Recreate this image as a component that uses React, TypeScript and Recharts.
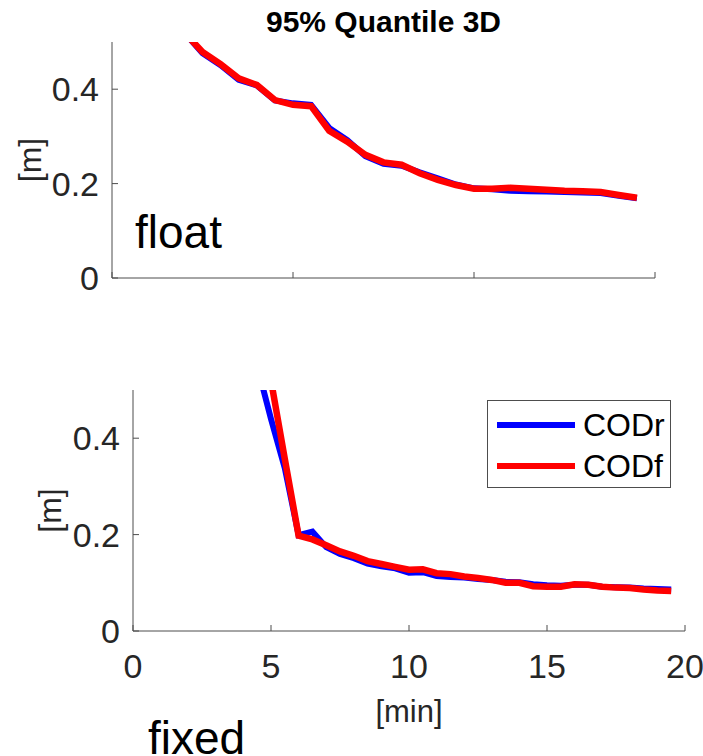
import React from "react";
import { LineChart, Line, XAxis, YAxis, Legend, Label } from "recharts";

// 95% quantile of the 3D position error over convergence time [min]
const floatTime = [2.0, 2.5, 3.0, 3.5, 4.0, 4.5, 5.0, 5.5, 6.0, 6.5, 7.0, 7.5, 8.0, 8.5, 9.0, 9.5, 10.0, 10.5, 11.0, 11.5, 12.0, 12.5, 13.0, 13.5, 14.0, 14.5];
const floatCodr = [0.52, 0.476, 0.451, 0.42, 0.408, 0.376, 0.37, 0.367, 0.318, 0.292, 0.258, 0.242, 0.238, 0.224, 0.211, 0.198, 0.19, 0.188, 0.185, 0.184, 0.183, 0.182, 0.181, 0.18, 0.174, 0.169];
const floatCodf = [0.52, 0.479, 0.453, 0.423, 0.409, 0.377, 0.367, 0.364, 0.312, 0.289, 0.261, 0.245, 0.24, 0.222, 0.208, 0.197, 0.189, 0.189, 0.191, 0.189, 0.187, 0.185, 0.184, 0.182, 0.176, 0.17];

const fixedTime = [4.5, 5.0, 5.5, 6.0, 6.5, 7.0, 7.5, 8.0, 8.5, 9.0, 9.5, 10.0, 10.5, 11.0, 11.5, 12.0, 12.5, 13.0, 13.5, 14.0, 14.5, 15.0, 15.5, 16.0, 16.5, 17.0, 17.5, 18.0, 18.5, 19.0, 19.5];
const fixedCodr = [0.55, 0.44, 0.338, 0.199, 0.206, 0.174, 0.16, 0.151, 0.14, 0.134, 0.13, 0.121, 0.122, 0.114, 0.112, 0.111, 0.108, 0.106, 0.102, 0.101, 0.097, 0.095, 0.094, 0.096, 0.096, 0.092, 0.091, 0.09, 0.088, 0.087, 0.086];
const fixedCodf = [null, 0.52, 0.357, 0.198, 0.19, 0.178, 0.165, 0.156, 0.145, 0.139, 0.133, 0.127, 0.128, 0.12, 0.118, 0.113, 0.11, 0.106, 0.1, 0.1, 0.093, 0.092, 0.092, 0.097, 0.096, 0.092, 0.09, 0.089, 0.086, 0.084, 0.083];

const floatTicks = [0, 5, 10, 15];
const fixedTicks = [0, 5, 10, 15, 20];
const yTicks = [0, 0.2, 0.4];

const FONT = "'Liberation Sans', Arial, Helvetica, sans-serif";
const INK = "#262626";
const AXIS = "#4d4d4d";
const BLUE = "#0000ff";
const RED = "#ff0000";

const series = [
  { key: "codr", name: "CODr", color: BLUE, width: 6 },
  { key: "codf", name: "CODf", color: RED, width: 6.5 },
];

const floatData = floatTime.map((t, i) => ({ t, codr: floatCodr[i], codf: floatCodf[i] }));
const fixedData = fixedTime.map((t, i) => ({ t, codr: fixedCodr[i], codf: fixedCodf[i] }));

// inward ticks, matlab style
const YTick = (props: any) => {
  const { x, y, payload } = props;
  return (
    <g>
      <line x1={x} x2={x + 6} y1={y} y2={y} stroke={AXIS} strokeWidth={1} />
      <text x={x - 13} y={y} textAnchor="end" dominantBaseline="central" fontFamily={FONT} fontSize={34} fill={INK}>
        {String(payload.value)}
      </text>
    </g>
  );
};

const XTick = (props: any) => {
  const { x, y, payload, showLabel } = props;
  return (
    <g>
      <line x1={x} x2={x} y1={y} y2={y - 6} stroke={AXIS} strokeWidth={1} />
      {showLabel && (
        <text x={x} y={y + 35} textAnchor="middle" dominantBaseline="central" fontFamily={FONT} fontSize={34} fill={INK}>
          {String(payload.value)}
        </text>
      )}
    </g>
  );
};

const yLabel = (dx: number) => ({ viewBox }: any) => {
  const cx = viewBox.x + dx;
  const cy = viewBox.y + viewBox.height / 2;
  return (
    <text x={cx} y={cy} transform={`rotate(-90 ${cx} ${cy})`} textAnchor="middle" dominantBaseline="central" fontFamily={FONT} fontSize={32} fill={INK}>
      [m]
    </text>
  );
};

const xLabel = ({ viewBox }: any) => (
  <text x={viewBox.x + viewBox.width / 2} y={viewBox.y + 80} textAnchor="middle" dominantBaseline="central" fontFamily={FONT} fontSize={31} fill={INK}>
    [min]
  </text>
);

const LegendBox = () => (
  <div style={{ width: 182, height: 86, border: `1px solid ${AXIS}`, background: "#fff", position: "relative", fontFamily: FONT }}>
    {series.map((s, i) => (
      <div key={s.key} style={{ position: "absolute", left: 0, top: i === 0 ? 4 : 45, height: 40, display: "flex", alignItems: "center" }}>
        <div style={{ marginLeft: 9, width: 78, height: 6, background: s.color }} />
        <span style={{ marginLeft: 8, fontSize: 32, color: "#000" }}>{s.name}</span>
      </div>
    ))}
  </div>
);

export default function App() {
  return (
    <div style={{ position: "absolute", left: 0, top: 0, width: 703, height: 756, background: "#fff", overflow: "hidden" }}>
      <div style={{ position: "absolute", left: 112, width: 543, top: 5, lineHeight: "34px", textAlign: "center", fontFamily: FONT, fontWeight: 700, fontSize: 30, color: "#000" }}>
        95% Quantile 3D
      </div>

      <div style={{ position: "absolute", left: 0, top: 0 }}>
        <LineChart width={703} height={330} data={floatData} margin={{ top: 42, right: 48, bottom: 12, left: 12 }}>
          <XAxis type="number" dataKey="t" domain={[0, 15]} ticks={floatTicks} interval={0} allowDataOverflow height={40}
            axisLine={{ stroke: AXIS, strokeWidth: 1 }} tickLine={false} tickSize={0} tickMargin={0}
            tick={(p: any) => <XTick {...p} showLabel={false} />} />
          <YAxis type="number" domain={[0, 0.5]} ticks={yTicks} interval={0} allowDataOverflow width={100}
            axisLine={{ stroke: AXIS, strokeWidth: 1 }} tickLine={false} tickSize={0} tickMargin={0} tick={YTick}>
            <Label content={yLabel(18)} />
          </YAxis>
          {series.map((s) => (
            <Line key={s.key} type="linear" dataKey={s.key} name={s.name} stroke={s.color} strokeWidth={s.width}
              dot={false} activeDot={false} isAnimationActive={false} />
          ))}
        </LineChart>
      </div>

      <div style={{ position: "absolute", left: 135, top: 206, fontFamily: FONT, fontSize: 46, color: "#000", lineHeight: "52px" }}>
        float
      </div>

      <div style={{ position: "absolute", left: 0, top: 360 }}>
        <LineChart width={703} height={380} data={fixedData} margin={{ top: 30, right: 18, bottom: 49, left: 33 }}>
          <XAxis type="number" dataKey="t" domain={[0, 20]} ticks={fixedTicks} interval={0} allowDataOverflow height={60}
            axisLine={{ stroke: AXIS, strokeWidth: 1 }} tickLine={false} tickSize={0} tickMargin={0}
            tick={(p: any) => <XTick {...p} showLabel />}>
            <Label content={xLabel} />
          </XAxis>
          <YAxis type="number" domain={[0, 0.5]} ticks={yTicks} interval={0} allowDataOverflow width={100}
            axisLine={{ stroke: AXIS, strokeWidth: 1 }} tickLine={false} tickSize={0} tickMargin={0} tick={YTick}>
            <Label content={yLabel(17)} />
          </YAxis>
          <Legend layout="horizontal" verticalAlign="middle" align="center" content={LegendBox}
            wrapperStyle={{ left: 487, top: 40, width: 184 }} />
          {series.map((s) => (
            <Line key={s.key} type="linear" dataKey={s.key} name={s.name} stroke={s.color} strokeWidth={s.width}
              dot={false} activeDot={false} isAnimationActive={false} connectNulls />
          ))}
        </LineChart>
      </div>

      <div style={{ position: "absolute", left: 148, top: 712, fontFamily: FONT, fontSize: 46, color: "#000", lineHeight: "52px" }}>
        fixed
      </div>
    </div>
  );
}
